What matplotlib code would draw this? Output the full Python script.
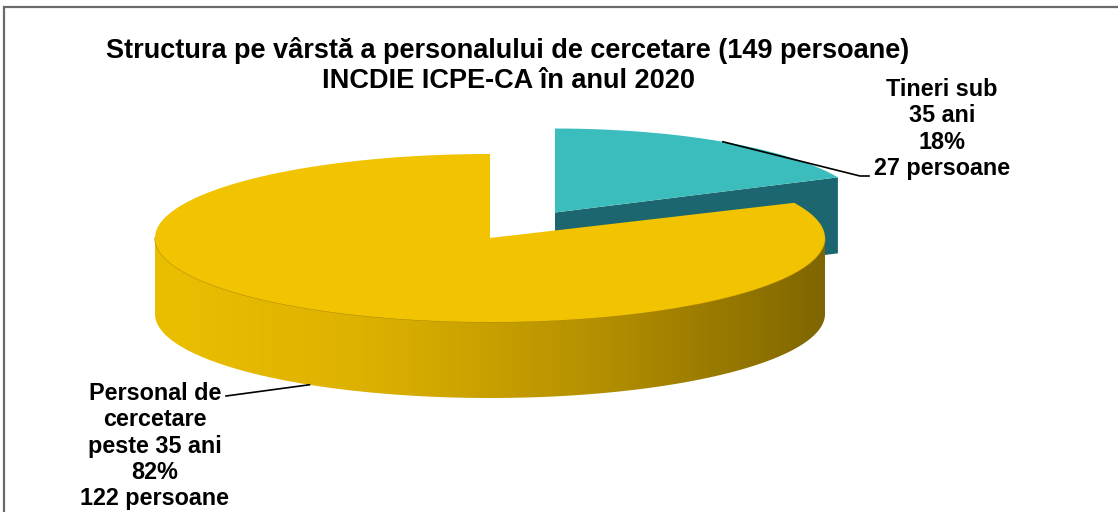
import numpy as np
import matplotlib
matplotlib.use("Agg")
import matplotlib.pyplot as plt
from matplotlib.patches import Polygon
from matplotlib.colors import LinearSegmentedColormap

# ---------------- data ----------------
title_lines = ["Structura pe vârstă a personalului de cercetare (149 persoane)",
               "INCDIE ICPE-CA în anul 2020"]
categories = ["Tineri sub\n35 ani", "Personal de\ncercetare\npeste 35 ani"]
counts = [27, 122]
percents = [18, 82]
unit = "persoane"

# ---------------- style / layout ----------------
W, H = 1118, 512
top_colors = ["#3bbdbd", "#f1c300"]
side_colors = ["#1c6670", None]
side_grad = ["#ebbf00", "#dcb000", "#b48f00", "#806600"]
explode = [0.36, 0.0]
scale_x = [0.93, 1.0]
scale_y = [1.0, 1.0]
CX, CY, RX, RY, DEPTH = 490, 238, 335, 84, 76
FONT = "Liberation Sans"

fig = plt.figure(figsize=(W / 100, H / 100), dpi=100)
ax = fig.add_axes([0, 0, 1, 1])
ax.set_xlim(0, W)
ax.set_ylim(H, 0)
ax.axis("off")

total = sum(counts)
bounds = np.concatenate([[0], np.cumsum(counts) / total]) * 2 * np.pi


def pt(t, cx, cy, i, dz=0.0):
    return cx + scale_x[i] * RX * np.sin(t), cy - scale_y[i] * RY * np.cos(t) + dz


centers = []
for i in range(len(counts)):
    s0, s1 = bounds[i], bounds[i + 1]
    mid = (s0 + s1) / 2
    cx = CX + explode[i] * RX * np.sin(mid)
    cy = CY - explode[i] * RY * np.cos(mid)
    centers.append((cx, cy))

cmap = LinearSegmentedColormap.from_list("side", side_grad)

for i in range(len(counts)):
    s0, s1 = bounds[i], bounds[i + 1]
    cx, cy = centers[i]
    # radial side face at end angle
    if np.sin(s1) > 1e-6:
        ex, ey = pt(s1, cx, cy, i)
        poly = [(cx, cy), (ex, ey), (ex, ey + DEPTH), (cx, cy + DEPTH)]
        ax.add_patch(Polygon(poly, closed=True, fc=side_colors[i] or "#9a7a00",
                             ec="none", zorder=2 + 3 * i))
    # outer arc side (front half)
    a0, a1 = max(s0, np.pi / 2), min(s1, 3 * np.pi / 2)
    if a1 > a0:
        tt = np.linspace(a0, a1, 200)
        xs, ys = pt(tt, cx, cy, i)
        poly = np.column_stack([np.concatenate([xs, xs[::-1]]),
                                np.concatenate([ys, ys[::-1] + DEPTH])])
        patch = Polygon(poly, closed=True, fc="none", ec="none", zorder=3 + 3 * i)
        ax.add_patch(patch)
        grad = np.linspace(0, 1, 256)[None, :]
        im = ax.imshow(grad, cmap=cmap, aspect="auto",
                       extent=(cx - RX * scale_x[i], cx + RX * scale_x[i],
                               cy + RY * scale_y[i] + DEPTH + 5, cy - 5),
                       zorder=3 + 3 * i, interpolation="bilinear")
        im.set_clip_path(patch)
        ax.plot(xs, ys, color="#b08c00", lw=0.8, zorder=4 + 3 * i)
    # top face
    tt = np.linspace(s0, s1, 300)
    xs, ys = pt(tt, cx, cy, i)
    poly = np.column_stack([np.concatenate([[cx], xs]), np.concatenate([[cy], ys])])
    ax.add_patch(Polygon(poly, closed=True, fc=top_colors[i], ec="none",
                         zorder=4 + 3 * i))

# ---------------- labels ----------------
label_texts = [f"{c}\n{p}%\n{n} {unit}" for c, p, n in zip(categories, percents, counts)]
label_pos = [(942, 129), (155, 446)]
lead_end = [(860, 176), (226, 396)]

# label 0 (teal) leader from arc midpoint
cx, cy = centers[0]
mid0 = (bounds[0] + bounds[1]) / 2
mx, my = pt(mid0, cx, cy, 0)
ax.plot([mx, lead_end[0][0], lead_end[0][0] + 9], [my, lead_end[0][1], lead_end[0][1]],
        color="black", lw=1.2, zorder=20)
# label 1 (yellow) leader to the bottom of the side at mid angle
cx, cy = centers[1]
mid1 = (bounds[1] + bounds[2]) / 2
mx, my = pt(mid1, cx, cy, 1, DEPTH)
ax.plot([lead_end[1][0], mx], [lead_end[1][1], my], color="black", lw=1.2, zorder=20)

for txt, (x, y) in zip(label_texts, label_pos):
    ax.text(x, y, txt, ha="center", va="center", fontsize=16.8, fontweight="bold",
            family=FONT, linespacing=1.17, color="black", zorder=21)

ax.text(508, 66, "\n".join(title_lines), ha="center", va="center", fontsize=19.5,
        fontweight="bold", family=FONT, linespacing=1.2, color="black", zorder=21)

# frame
ax.plot([4, 4, W], [H, 7, 7], color="#6a6a6a", lw=1.6, zorder=30,
        solid_joinstyle="miter")

fig.savefig("out.png", dpi=100)
